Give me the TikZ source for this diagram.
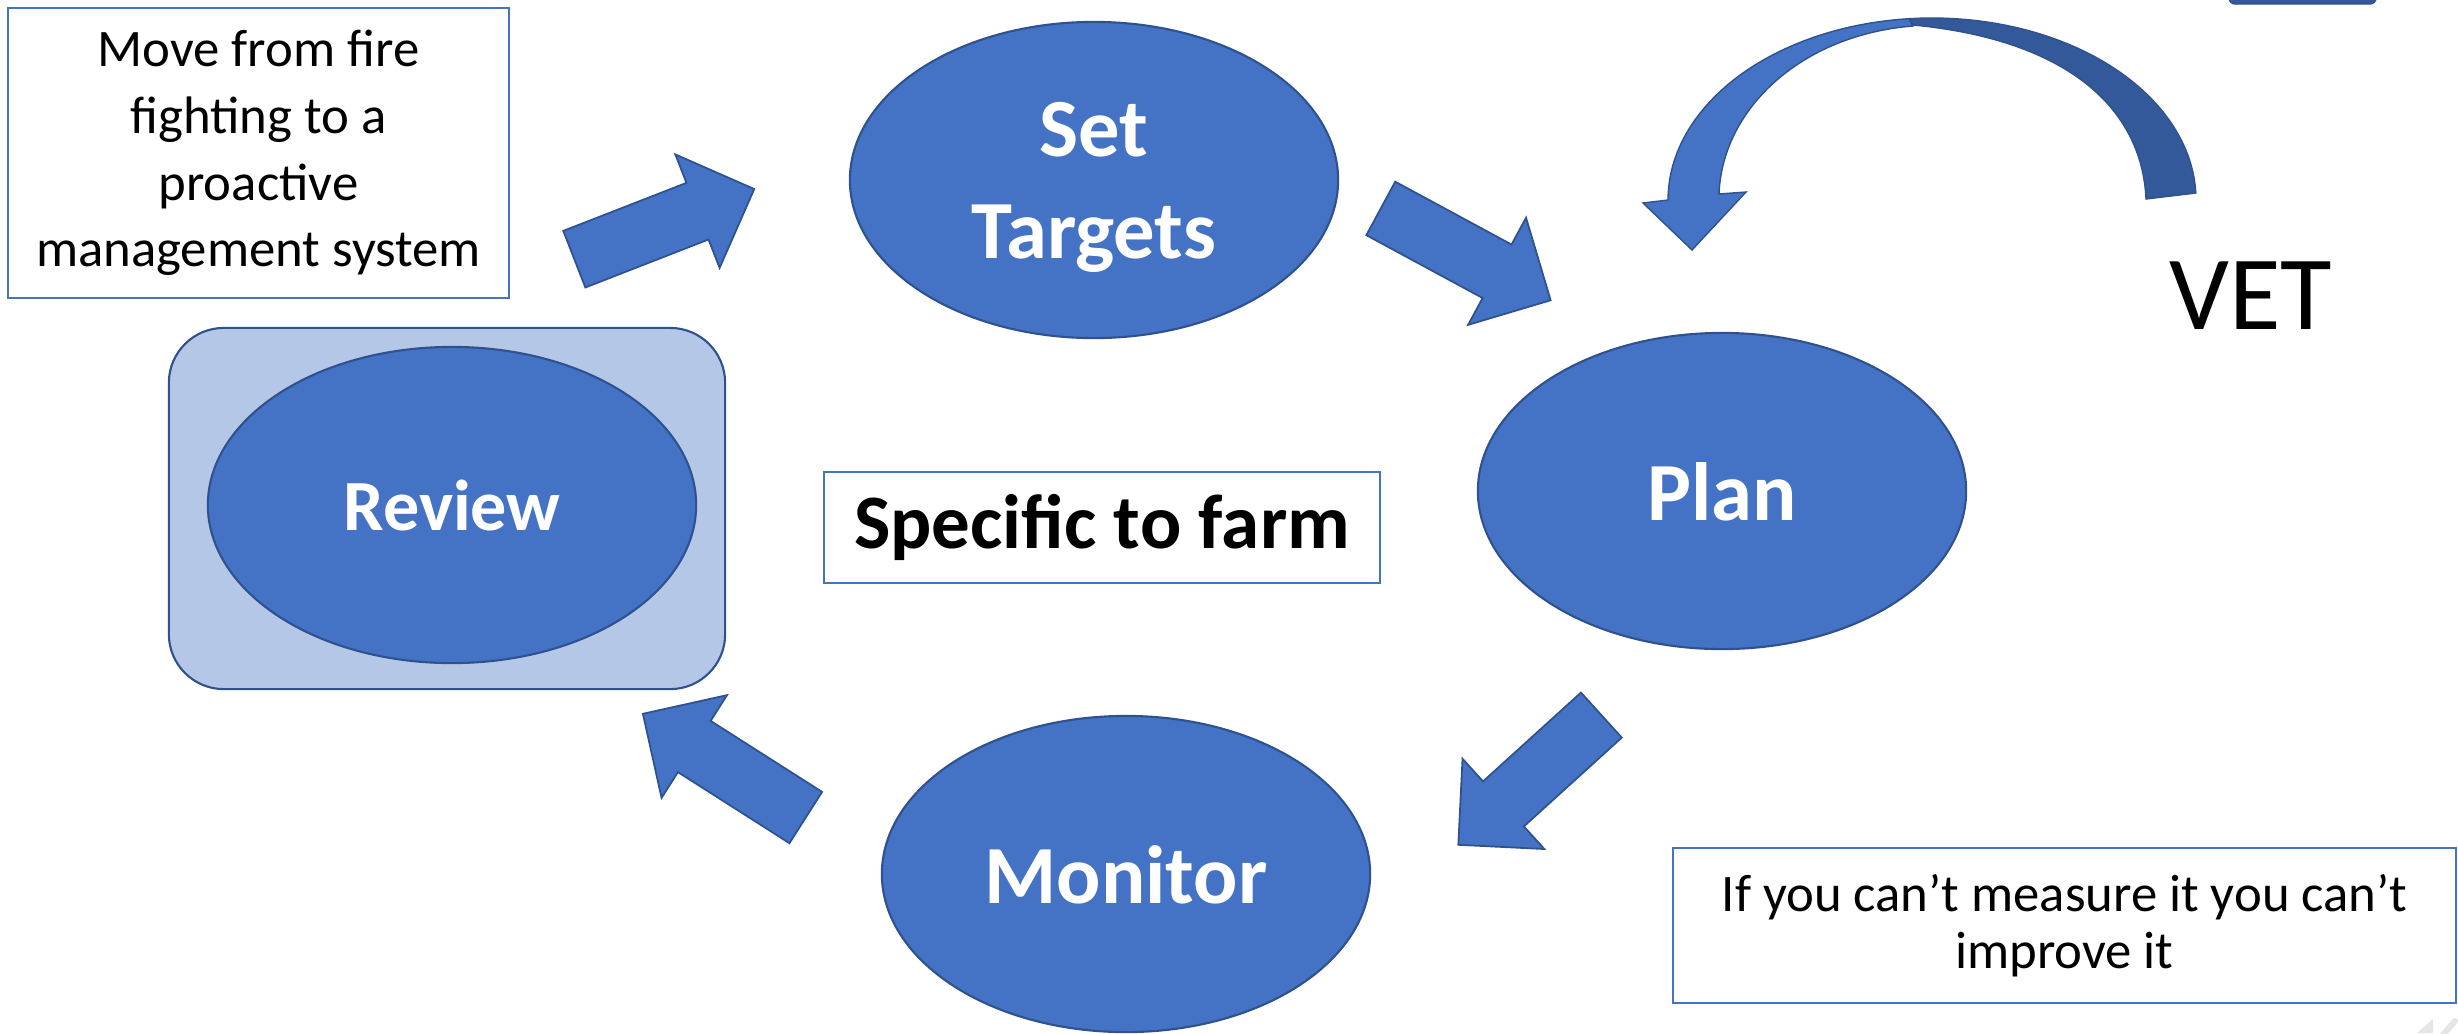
\documentclass[tikz,border=0pt]{standalone}
\usepackage{fontspec}
\setmainfont{Carlito}
\usepackage{xcolor}
\usetikzlibrary{shapes.geometric,shapes.arrows}
\definecolor{stepblue}{HTML}{4472C4}
\definecolor{edgeblue}{HTML}{2F528F}
\definecolor{paleblue}{HTML}{B4C7E7}
\definecolor{backblue}{RGB}{52,89,154}
\tikzset{
  stage/.style={ellipse, fill=stepblue, draw=edgeblue, line width=0.6pt, minimum width=4.88cm, minimum height=3.16cm,
    inner sep=0pt, text=white, align=center, text depth=0pt, font=\bfseries\fontsize{23.5}{29}\selectfont},
  note/.style={draw=stepblue, line width=0.5pt, fill=white, align=center, inner sep=0pt},
  cycarrow/.style={single arrow, fill=stepblue, draw=edgeblue, line width=0.5pt, minimum height=1.93cm, minimum width=1.2cm,
    single arrow head extend=0.305cm, inner xsep=0pt, inner ysep=0.295cm, anchor=tail}
}

\begin{document}
\begin{tikzpicture}[x=0.01cm,y=-0.01cm]
  \useasboundingbox (0,0) rectangle (2458,1033);

  \node[note, minimum width=5.01cm, minimum height=2.90cm, font=\fontsize{15}{19}\selectfont] (firebox) at (258.5,153)
    {Move from fire\\fighting to a\\proactive\\management system};
  \node[fill=paleblue, draw=edgeblue, line width=0.6pt, rounded corners=0.55cm, minimum width=5.56cm, minimum height=3.61cm] (reviewbox) at (447,508.5) {};

  \node[stage] (targets) at (1094,180) {Set\\Targets};
  \node[stage] (plan) at (1722,491) {Plan};
  \node[stage] (monitor) at (1126,874) {Monitor};
  \node[stage, font=\bfseries\fontsize{20.5}{25}\selectfont] (review) at (452,505) {Review};

  \node[note, minimum width=5.56cm, minimum height=1.11cm, font=\bfseries\fontsize{21.9}{26}\selectfont] (farmbox) at (1102,527.5) {Specific to farm};
  \node[note, minimum width=7.83cm, minimum height=1.55cm, font=\fontsize{15}{16.2}\selectfont] (measurebox) at (2064.5,925.5)
    {If you can’t measure it you can’t\\improve it};
  \node[font=\fontsize{30}{36}\selectfont, text depth=0pt, inner sep=0pt] (vet) at (2251,296) {VET};

  \node[cycarrow, rotate=21.3] (firearrow) at (573.5,259.5) {};
  \node[cycarrow, rotate=-28.4] (planarrow) at (1380,208) {};
  \node[cycarrow, rotate=222.2] (monitorarrow) at (1602,714.5) {};
  \node[cycarrow, rotate=147.5] (reviewarrow) at (806.5,818) {};

  % curved arrow over the vet
  \filldraw[fill=backblue, draw=edgeblue, line width=0.4pt]
    plot[domain=2.2:95, samples=40, variable=\t] ({1932+264*cos(\t)},{200-182*sin(\t)})
    -- (1913,25) .. controls (2070,40) and (2142,110) .. (2146,199) -- cycle;
  \filldraw[fill=stepblue, draw=edgeblue, line width=0.4pt]
    plot[domain=95:180, samples=40, variable=\t] ({1932+264*cos(\t)},{200-182*sin(\t)})
    -- (1643,203) -- (1692,250) -- (1746,192) -- (1719,194)
    .. controls (1722,110) and (1800,35) .. (1913,26) -- cycle;

  \filldraw[fill=backblue, draw=edgeblue, rounded corners=0.06cm] (2229,-30) rectangle (2376,4);
  \fill[gray!20] (2417,1033) -- (2433,1019) -- (2433,1033) -- cycle;
  \draw[gray!20, line width=0.06cm, line cap=round] (2442,1036) -- (2455,1021);
\end{tikzpicture}
\end{document}
